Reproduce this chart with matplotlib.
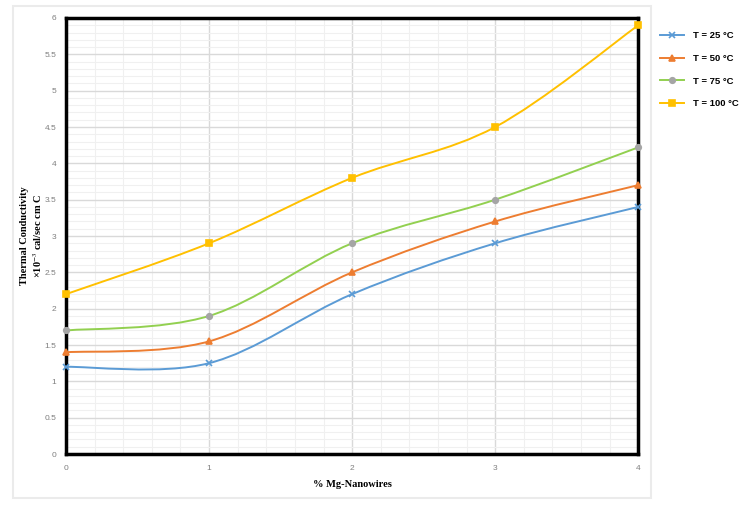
import matplotlib
matplotlib.use('Agg')
import matplotlib.pyplot as plt
from matplotlib.path import Path
from matplotlib.patches import PathPatch, Rectangle
from matplotlib.ticker import MultipleLocator, FormatStrFormatter
from matplotlib.lines import Line2D
import numpy as np

plt.rcParams['font.family'] = ['Liberation Serif', 'DejaVu Serif']
plt.rcParams['mathtext.fontset'] = 'stix'

# data
mg_pct = [0, 1, 2, 3, 4]
k_25 = [1.20, 1.25, 2.20, 2.90, 3.40]
k_50 = [1.40, 1.55, 2.50, 3.20, 3.70]
k_75 = [1.70, 1.90, 2.90, 3.50, 4.22]
k_100 = [2.20, 2.90, 3.80, 4.50, 5.90]
labels = ['T = 25 °C', 'T = 50 °C', 'T = 75 °C', 'T = 100 °C']

styles = [
    dict(color='#5b9bd5', marker='x', mfc='#5b9bd5', mec='#5b9bd5', ms=4),
    dict(color='#ed7d31', marker='^', mfc='#ed7d31', mec='#ed7d31', ms=4.5),
    dict(color='#92d050', marker='o', mfc='#a5a5a5', mec='#a5a5a5', ms=4),
    dict(color='#ffc000', marker='s', mfc='#ffc000', mec='#ffc000', ms=4.5),
]


def smooth_path(x, y):
    # Excel-style smoothed line: Catmull-Rom segments as cubic Beziers
    pts = np.column_stack([x, y]).astype(float)
    ext = np.vstack([pts[0], pts, pts[-1]])
    verts = [pts[0]]
    codes = [Path.MOVETO]
    for i in range(1, len(ext) - 2):
        p0, p1, p2, p3 = ext[i - 1], ext[i], ext[i + 1], ext[i + 2]
        verts += [p1 + (p2 - p0) / 6, p2 - (p3 - p1) / 6, p2]
        codes += [Path.CURVE4] * 3
    return Path(verts, codes)


fig = plt.figure(figsize=(7.5, 5.07), dpi=100)
ax = fig.add_axes([0.088, 0.1045, 0.763, 0.86])

# outer chart-area border
fig.patches.append(Rectangle((13 / 750, 1 - 498 / 507), 638 / 750, 492 / 507,
                             transform=fig.transFigure, fill=False,
                             ec='#ebebeb', lw=1.5, zorder=0))

handles = []
for ys, st, lab in zip([k_25, k_50, k_75, k_100], styles, labels):
    ax.add_patch(PathPatch(smooth_path(mg_pct, ys), fill=False,
                           ec=st['color'], lw=1.4, zorder=3))
    ax.plot(mg_pct, ys, ls='none', marker=st['marker'], ms=st['ms'],
            mfc=st['mfc'], mec=st['mec'], mew=1.2, zorder=4, clip_on=False)
    handles.append(Line2D([], [], color=st['color'], lw=1.4, marker=st['marker'],
                          ms=st['ms'], mfc=st['mfc'], mec=st['mec'], mew=1.2))

ax.set_xlim(0, 4)
ax.set_ylim(0, 6)
ax.xaxis.set_major_locator(MultipleLocator(1))
ax.xaxis.set_minor_locator(MultipleLocator(0.2))
ax.yaxis.set_major_locator(MultipleLocator(0.5))
ax.yaxis.set_minor_locator(MultipleLocator(0.1))
ax.xaxis.set_major_formatter(FormatStrFormatter('%g'))
ax.yaxis.set_major_formatter(FormatStrFormatter('%g'))
ax.grid(which='major', color='#d9d9d9', lw=1)
ax.grid(which='minor', color='#f0f0f0', lw=0.8)
ax.set_axisbelow(True)
ax.tick_params(which='both', length=0, labelsize=6, labelcolor='#7f7f7f')
ax.tick_params(axis='y', pad=7)
ax.tick_params(axis='x', pad=8)
for lbl in ax.get_xticklabels() + ax.get_yticklabels():
    lbl.set_family(['Liberation Sans', 'DejaVu Sans'])
for sp in ax.spines.values():
    sp.set_color('black')
    sp.set_linewidth(2.5)

ax.set_xlabel('% Mg-Nanowires', fontsize=7.5, fontweight='bold', labelpad=6)
ax.set_ylabel('Thermal Conductivity\n×10$^{-3}$ cal/sec cm C', fontsize=7.5,
              fontweight='bold')
ax.yaxis.set_label_coords(-0.039, 0.5)

fig.legend(handles, labels, loc='upper left', bbox_to_anchor=(0.868, 0.955),
           frameon=False,
           prop={'size': 6.8, 'weight': 'bold', 'family': ['Liberation Sans', 'DejaVu Sans']},
           handlelength=2.6, labelspacing=1.45, handletextpad=0.9)

fig.savefig('out.png', dpi=100)
